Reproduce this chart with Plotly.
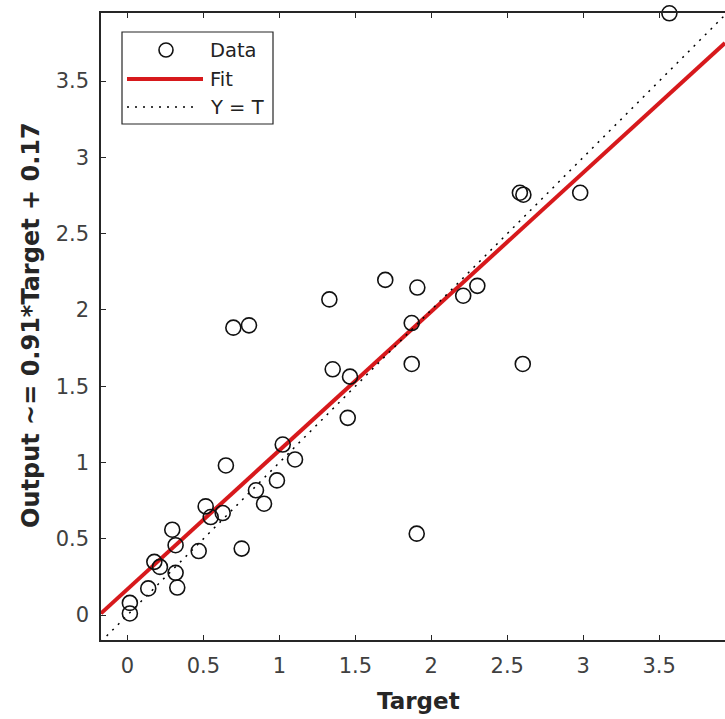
import plotly.graph_objects as go

# ---- data ----
target = [3.567, 2.98, 2.583, 2.606, 1.697, 1.908, 1.329, 2.21, 2.303,
          0.697, 0.80, 1.871, 1.351, 1.465, 1.871, 2.602, 1.45,
          1.022, 1.103, 0.648, 0.984, 0.846, 0.899, 0.515, 0.548, 0.627,
          1.904, 0.295, 0.317, 0.469, 0.752, 0.177, 0.214, 0.317, 0.328,
          0.137, 0.016, 0.016]
output = [3.944, 2.768, 2.768, 2.755, 2.197, 2.147, 2.069, 2.093, 2.158,
          1.884, 1.899, 1.914, 1.611, 1.563, 1.646, 1.646, 1.293,
          1.118, 1.02, 0.981, 0.883, 0.818, 0.73, 0.713, 0.643, 0.669,
          0.534, 0.56, 0.458, 0.42, 0.436, 0.349, 0.316, 0.277, 0.181,
          0.175, 0.08, 0.011]
fit_slope = 0.91
fit_intercept = 0.17
x_range = [-0.174, 3.933]
y_range = [-0.163, 3.946]
tick_vals = [0, 0.5, 1, 1.5, 2, 2.5, 3, 3.5]
tick_text = ["0", "0.5", "1", "1.5", "2", "2.5", "3", "3.5"]
legend_labels = ["Data", "Fit", "Y = T"]
x_title = "Target"
y_title = "Output ~= 0.91*Target + 0.17"

W, H = 725, 719
L, R, T, B = 101, 0, 13, 79
FONT = "DejaVu Sans, Verdana, sans-serif"
AX = "#262626"
RED = "#d7191c"

fig = go.Figure()

fit_x = list(x_range)
fit_y = [fit_slope * v + fit_intercept for v in fit_x]

fig.add_trace(go.Scatter(x=fit_x, y=fit_y, mode="lines",
                         line=dict(color=RED, width=4), name="Fit",
                         showlegend=False))
fig.add_trace(go.Scatter(x=fit_x, y=fit_x, mode="lines",
                         line=dict(color="black", width=1.5, dash="2px,6px"),
                         name="Y = T", showlegend=False))
fig.add_trace(go.Scatter(x=target, y=output, mode="markers", name="Data",
                         marker=dict(symbol="circle-open", size=15,
                                     color="#111111",
                                     line=dict(width=1.6, color="#111111")),
                         cliponaxis=False, showlegend=False))

# ---- custom MATLAB-like legend box ----
pw = W - L - R
ph = H - T - B


def px(xp):
    return (xp - L) / pw


def py(yp):
    return (H - B - yp) / ph


shapes = [
    dict(type="rect", xref="paper", yref="paper",
         x0=px(122), x1=px(273), y0=py(124), y1=py(32),
         line=dict(color=AX, width=1.2), fillcolor="white", layer="above"),
    dict(type="line", xref="paper", yref="paper",
         x0=px(127), x1=px(203), y0=py(79), y1=py(79),
         line=dict(color=RED, width=4), layer="above"),
    dict(type="line", xref="paper", yref="paper",
         x0=px(127), x1=px(199), y0=py(107), y1=py(107),
         line=dict(color="black", width=1.5, dash="2px,6px"), layer="above"),
    dict(type="circle", xref="paper", yref="paper",
         xsizemode="pixel", ysizemode="pixel",
         xanchor=px(166), yanchor=py(50),
         x0=-7, x1=7, y0=-7, y1=7,
         line=dict(color="#111111", width=1.6), layer="above"),
]
annotations = []
for lab, yp in zip(legend_labels, [50, 79, 107]):
    annotations.append(dict(xref="paper", yref="paper", x=px(208), y=py(yp),
                            text=lab, showarrow=False, xanchor="left",
                            yanchor="middle",
                            font=dict(family=FONT, size=19.5, color="#222222")))

# axis titles
annotations.append(dict(xref="paper", yref="paper", x=px(418), y=py(701),
                        text="<b>%s</b>" % x_title, showarrow=False,
                        xanchor="center", yanchor="middle",
                        font=dict(family=FONT, size=23, color="#262626")))
annotations.append(dict(xref="paper", yref="paper", x=px(31), y=py(325),
                        text="<b>%s</b>" % y_title, showarrow=False,
                        textangle=-90, xanchor="center", yanchor="middle",
                        font=dict(family=FONT, size=24, color="#262626")))

axis_common = dict(
    tickvals=tick_vals, ticktext=tick_text, ticks="inside", ticklen=5,
    tickwidth=1.3, tickcolor=AX, showline=True, linecolor=AX, linewidth=1.5,
    showgrid=False, zeroline=False, automargin=False,
    tickfont=dict(family=FONT, size=21, color="#404040"),
)

fig.update_layout(
    width=W, height=H,
    margin=dict(l=L, r=R, t=T, b=B),
    paper_bgcolor="white", plot_bgcolor="white",
    shapes=shapes, annotations=annotations,
    xaxis=dict(range=x_range, mirror="ticks", ticklabelstandoff=6,
               **axis_common),
    yaxis=dict(range=y_range, ticklabelstandoff=6, **axis_common),
)

fig.write_html("out.html")
